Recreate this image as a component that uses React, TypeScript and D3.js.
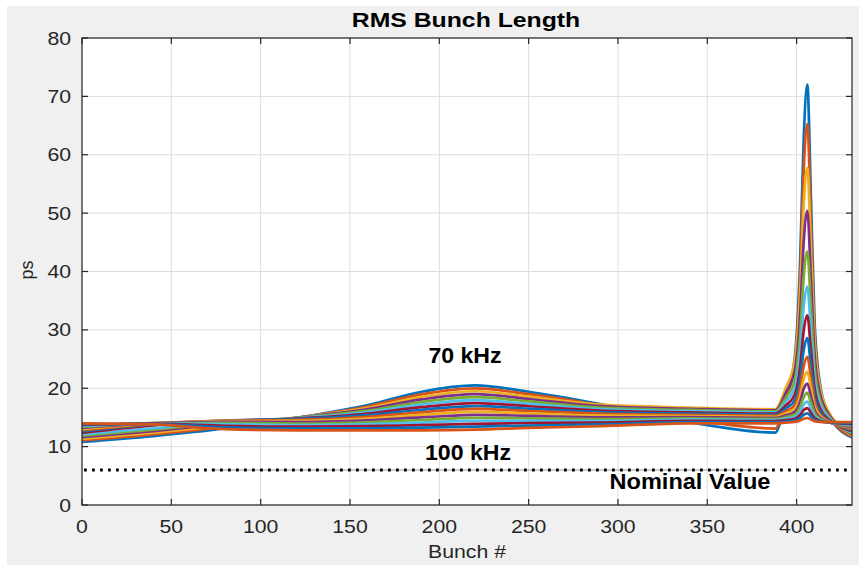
import React from "react";
import * as d3 from "d3";

// Bunch positions where each bunch-length trace is sampled
const bunchIndex = [0, 40, 80, 120, 160, 190, 220, 250, 290, 340, 388, 394, 399, 402, 404, 406, 408, 410, 413, 418, 424, 431];

// RMS bunch length (ps) per feedback setting, from 70 kHz (first) to 100 kHz (last)
const trace01 = [10.80, 11.80, 13.10, 14.90, 17.10, 19.40, 20.50, 19.40, 17.30, 14.20, 12.40, 18.28, 25.38, 42.11, 63.04, 72.00, 52.78, 31.77, 20.92, 15.44, 12.93, 11.60];
const trace02 = [11.08, 12.10, 13.38, 14.93, 16.88, 18.96, 19.99, 18.99, 17.15, 14.70, 13.10, 18.19, 24.37, 39.05, 57.46, 65.30, 48.36, 29.83, 20.24, 15.34, 13.05, 11.77];
const trace03 = [11.35, 12.39, 13.66, 14.95, 16.65, 18.52, 19.49, 18.57, 17.19, 16.70, 16.40, 20.11, 24.78, 36.58, 51.51, 57.80, 43.75, 28.40, 20.30, 15.90, 13.54, 11.95];
const trace04 = [11.62, 12.67, 13.90, 14.95, 16.42, 18.08, 18.98, 18.16, 16.94, 16.49, 16.22, 19.24, 23.07, 32.84, 45.21, 50.40, 38.72, 25.97, 19.23, 15.51, 13.51, 12.12];
const trace05 = [11.88, 12.92, 14.11, 14.93, 16.18, 17.64, 18.47, 17.75, 16.69, 16.28, 16.03, 18.40, 21.44, 29.28, 39.24, 43.40, 33.97, 23.67, 18.20, 15.16, 13.48, 12.29];
const trace06 = [12.13, 13.15, 14.28, 14.89, 15.93, 17.20, 17.97, 17.33, 16.43, 16.08, 15.85, 17.68, 20.04, 26.23, 34.11, 37.40, 29.89, 21.70, 17.33, 14.87, 13.48, 12.47];
const trace07 = [12.37, 13.64, 14.39, 14.82, 15.67, 16.76, 17.46, 16.92, 16.18, 15.87, 15.66, 17.05, 18.87, 23.73, 29.93, 32.50, 26.57, 20.09, 16.62, 14.64, 13.49, 12.64];
const trace08 = [12.59, 13.79, 14.45, 14.72, 15.39, 16.32, 16.95, 16.51, 15.93, 15.66, 15.48, 16.53, 17.93, 21.73, 26.59, 28.60, 23.92, 18.81, 16.07, 14.47, 13.53, 12.81];
const trace09 = [12.81, 13.90, 14.44, 14.58, 15.11, 15.88, 16.45, 16.09, 15.67, 15.45, 15.29, 16.08, 17.14, 20.08, 23.84, 25.40, 21.75, 17.76, 15.61, 14.35, 13.58, 12.99];
const trace10 = [13.01, 13.98, 14.37, 14.40, 14.81, 15.44, 15.94, 15.68, 15.32, 15.25, 15.11, 15.69, 16.48, 18.74, 21.61, 22.80, 19.99, 16.92, 15.26, 14.26, 13.65, 13.16];
const trace11 = [13.19, 14.01, 14.25, 14.19, 14.49, 15.00, 15.43, 15.27, 15.02, 15.04, 14.92, 15.36, 15.95, 17.68, 19.90, 20.80, 18.63, 16.27, 14.98, 14.20, 13.72, 13.33];
const trace12 = [13.37, 14.02, 14.07, 13.95, 14.17, 14.56, 14.93, 14.85, 14.71, 14.83, 14.74, 15.07, 15.52, 16.83, 18.50, 19.20, 17.55, 15.75, 14.78, 14.18, 13.81, 13.51];
const trace13 = [13.54, 13.99, 13.84, 13.69, 13.84, 14.12, 14.42, 14.44, 14.41, 14.62, 14.55, 14.78, 15.10, 16.03, 17.21, 17.70, 16.54, 15.27, 14.57, 14.15, 13.89, 13.68];
const trace14 = [13.70, 13.94, 13.58, 13.41, 13.50, 13.68, 13.91, 14.03, 14.11, 14.42, 14.37, 14.55, 14.78, 15.43, 16.26, 16.60, 15.80, 14.91, 14.44, 14.16, 13.99, 13.85];
const trace15 = [13.85, 13.87, 13.30, 13.11, 13.15, 13.24, 13.41, 13.61, 13.80, 14.21, 14.18, 14.32, 14.49, 14.92, 15.46, 15.70, 15.18, 14.62, 14.33, 14.17, 14.08, 14.03];
const trace16 = [14.00, 13.80, 13.00, 12.80, 12.80, 12.80, 12.90, 13.20, 13.50, 14.00, 14.00, 14.11, 14.23, 14.48, 14.77, 14.90, 14.65, 14.37, 14.24, 14.19, 14.19, 14.20];

const traces = [
  trace01, trace02, trace03, trace04, trace05, trace06, trace07, trace08,
  trace09, trace10, trace11, trace12, trace13, trace14, trace15, trace16,
];

// MATLAB default line colour order
const colorOrder = ["#0072BD", "#D95319", "#EDB120", "#7E2F8E", "#77AC30", "#4DBEEE", "#A2142F"];

const xTicks = [0, 50, 100, 150, 200, 250, 300, 350, 400];
const yTicks = [0, 10, 20, 30, 40, 50, 60, 70, 80];
const xDomain = [0, 431];
const yDomain = [0, 80];
const nominalValue = 6;
// faint solid segment lying under the dotted nominal line (bunch range)
const nominalShade = [72, 385];

const W = 859;
const H = 566;
const plot = { left: 82, right: 852, top: 38, bottom: 505 };
const font = "'Liberation Sans', Arial, Helvetica, sans-serif";
const stretch = 1.18;

export default function App() {
  const x = d3.scaleLinear().domain(xDomain).range([plot.left, plot.right]);
  const y = d3.scaleLinear().domain(yDomain).range([plot.bottom, plot.top]);

  const line = d3
    .line<number>()
    .x((_, i) => x(bunchIndex[i]))
    .y((v) => y(v))
    .curve(d3.curveMonotoneX);

  const tickLen = 6;
  const axisColor = "#262626";

  return (
    <svg
      width={W}
      height={H}
      style={{ position: "absolute", left: 0, top: 0, background: "#ffffff" }}
    >
      <rect x={7} y={6} width={W - 7} height={559} fill="#f0f0f0" />
      <rect
        x={plot.left}
        y={plot.top}
        width={plot.right - plot.left}
        height={plot.bottom - plot.top}
        fill="#ffffff"
      />
      <defs>
        <clipPath id="plotClip">
          <rect
            x={plot.left}
            y={plot.top}
            width={plot.right - plot.left}
            height={plot.bottom - plot.top}
          />
        </clipPath>
      </defs>

      {/* grid */}
      <g stroke="#dedede" strokeWidth={1}>
        {xTicks.map((t) => (
          <line key={"gx" + t} x1={x(t)} x2={x(t)} y1={plot.top} y2={plot.bottom} />
        ))}
        {yTicks.map((t) => (
          <line key={"gy" + t} x1={plot.left} x2={plot.right} y1={y(t)} y2={y(t)} />
        ))}
      </g>

      {/* bunch length traces */}
      <g clipPath="url(#plotClip)" fill="none" strokeWidth={2.7} strokeLinejoin="round" strokeLinecap="round">
        {traces.map((tr, i) => (
          <path key={"tr" + i} d={line(tr) || ""} stroke={colorOrder[i % colorOrder.length]} />
        ))}
      </g>

      {/* nominal value */}
      <line
        x1={x(nominalShade[0])}
        x2={x(nominalShade[1])}
        y1={y(nominalValue)}
        y2={y(nominalValue)}
        stroke="#bdbdbd"
        strokeWidth={1.5}
      />
      <line
        x1={x(xDomain[0]) + 2}
        x2={x(xDomain[1])}
        y1={y(nominalValue)}
        y2={y(nominalValue)}
        stroke="#000000"
        strokeWidth={2.8}
        strokeDasharray="2.8 5.2"
      />

      {/* axes box */}
      <rect
        x={plot.left}
        y={plot.top}
        width={plot.right - plot.left}
        height={plot.bottom - plot.top}
        fill="none"
        stroke={axisColor}
        strokeWidth={1.2}
      />
      <g stroke={axisColor} strokeWidth={1.2}>
        {xTicks.map((t) => (
          <g key={"tx" + t}>
            <line x1={x(t)} x2={x(t)} y1={plot.bottom} y2={plot.bottom - tickLen} />
            <line x1={x(t)} x2={x(t)} y1={plot.top} y2={plot.top + tickLen} />
          </g>
        ))}
        {yTicks.map((t) => (
          <g key={"ty" + t}>
            <line x1={plot.left} x2={plot.left + tickLen} y1={y(t)} y2={y(t)} />
            <line x1={plot.right} x2={plot.right - tickLen} y1={y(t)} y2={y(t)} />
          </g>
        ))}
      </g>

      {/* tick labels */}
      <g fontFamily={font} fontSize={18} fill={axisColor}>
        {xTicks.map((t) => (
          <text
            key={"lx" + t}
            transform={`translate(${x(t)},533) scale(${stretch},1)`}
            textAnchor="middle"
          >
            {t}
          </text>
        ))}
        {yTicks.map((t) => (
          <text
            key={"ly" + t}
            transform={`translate(71,${y(t) + 6.5}) scale(${stretch},1)`}
            textAnchor="end"
          >
            {t}
          </text>
        ))}
      </g>

      {/* title and axis labels */}
      <text
        transform={`translate(466,27) scale(${stretch},1)`}
        textAnchor="middle"
        fontFamily={font}
        fontSize={21}
        fontWeight="bold"
        fill="#000000"
      >
        RMS Bunch Length
      </text>
      <text
        transform={`translate(467,558) scale(${stretch},1)`}
        textAnchor="middle"
        fontFamily={font}
        fontSize={18}
        fill={axisColor}
      >
        Bunch #
      </text>
      <text
        transform="translate(33,270) rotate(-90)"
        textAnchor="middle"
        fontFamily={font}
        fontSize={18}
        fill={axisColor}
      >
        ps
      </text>

      {/* annotations */}
      <g fontFamily={font} fontSize={22} fontWeight="bold" fill="#000000">
        <text transform="translate(465,363) scale(1.05,1)" textAnchor="middle">
          70 kHz
        </text>
        <text transform="translate(468,460) scale(1.05,1)" textAnchor="middle">
          100 kHz
        </text>
        <text transform="translate(690,489) scale(1.07,1)" textAnchor="middle">
          Nominal Value
        </text>
      </g>
    </svg>
  );
}
